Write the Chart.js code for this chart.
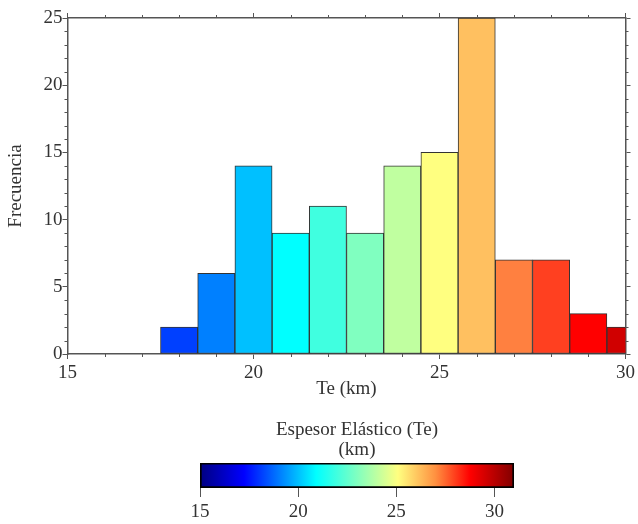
<!DOCTYPE html>
<html>
<head>
<meta charset="utf-8">
<script src="https://cdn.jsdelivr.net/npm/chart.js@4.4.0/dist/chart.umd.min.js"></script>
<style>
  body { margin: 0; background: #fff; }
  #wrap { position: relative; width: 638px; height: 524px; }
  #main { position: absolute; left: 0; top: 0; }
  #bar { position: absolute; left: 0; top: 400px; }
</style>
</head>
<body>
<div id="wrap">
  <canvas id="main" width="638" height="400"></canvas>
  <canvas id="bar" width="638" height="124"></canvas>
</div>
<script>
// bin centres (km), counts per 1 km bin
const binCentres = [18, 19, 20, 21, 22, 23, 24, 25, 26, 27, 28, 29, 30];
const counts = [2, 6, 14, 9, 11, 9, 14, 15, 25, 7, 7, 3, 2];
const binColors = ['#0040ff', '#0080ff', '#00c0ff', '#00ffff', '#40ffe0', '#80ffc0',
  '#c0ffa0', '#ffff80', '#ffc060', '#ff8040', '#ff4020', '#ff0000', '#d00000'];
const xTicks = [15, 20, 25, 30];
const yTicks = [0, 5, 10, 15, 20, 25];
const barTicks = [15, 20, 25, 30];

const serif = "'Liberation Serif', 'DejaVu Serif', serif";
Chart.defaults.font.family = serif;
Chart.defaults.color = '#333';

const axisCol = '#555';
const fs = 19;

// minor ticks every 1 unit on all four sides
const minorTicks = {
  id: 'minorTicks',
  afterDraw(chart) {
    const {ctx, chartArea: a, scales: {x, y}} = chart;
    ctx.save();
    ctx.strokeStyle = axisCol;
    ctx.lineWidth = 1;
    ctx.beginPath();
    for (let v = 15; v <= 30; v++) {
      if (v % 5 === 0) continue;
      const px = Math.round(x.getPixelForValue(v)) + 0.5;
      ctx.moveTo(px, a.bottom); ctx.lineTo(px, a.bottom + 3);
      ctx.moveTo(px, a.top); ctx.lineTo(px, a.top - 3);
    }
    for (let v = 0; v <= 25; v++) {
      if (v % 5 === 0) continue;
      const py = Math.round(y.getPixelForValue(v)) + 0.5;
      ctx.moveTo(a.left, py); ctx.lineTo(a.left - 3, py);
      ctx.moveTo(a.right, py); ctx.lineTo(a.right + 3, py);
    }
    ctx.stroke();
    ctx.restore();
  }
};

const frameAxis = (pos, ticks, extra) => Object.assign({
  type: 'linear',
  position: pos,
  offset: false,
  grid: { drawOnChartArea: false, tickLength: 5, tickColor: axisCol, offset: false },
  border: { color: axisCol, width: 1.5 },
  afterBuildTicks: s => { s.ticks = ticks.map(v => ({ value: v })); }
}, extra);

new Chart(document.getElementById('main'), {
  type: 'bar',
  data: {
    datasets: [{
      data: binCentres.map((c, i) => ({ x: c, y: counts[i] })),
      backgroundColor: binColors,
      borderColor: '#333',
      borderWidth: 1,
      borderSkipped: false,
      barPercentage: 1,
      categoryPercentage: 1
    }]
  },
  options: {
    responsive: false,
    animation: false,
    layout: { padding: { left: 5, top: 12, right: 3, bottom: 0 } },
    plugins: { legend: { display: false }, tooltip: { enabled: false } },
    scales: {
      x: frameAxis('bottom', xTicks, {
        min: 15, max: 30,
        ticks: { font: { size: fs }, padding: 3, maxRotation: 0 },
        title: { display: true, text: 'Te (km)', font: { size: fs }, padding: 0 },
        afterFit: s => { s.height = 46; }
      }),
      x2: frameAxis('top', xTicks, {
        min: 15, max: 30,
        ticks: { display: false },
        afterFit: s => { s.height = 6; }
      }),
      y: frameAxis('left', yTicks, {
        min: 0, max: 25,
        ticks: { font: { size: fs }, padding: 0 },
        title: { display: true, text: 'Frecuencia', font: { size: fs }, padding: 0 },
        afterFit: s => { s.width = 62.5; }
      }),
      y2: frameAxis('right', yTicks, {
        min: 0, max: 25,
        ticks: { display: false },
        afterFit: s => { s.width = 6; }
      })
    }
  },
  plugins: [minorTicks]
});

// colour bar (jet)
const jetStops = [[0, '#000080'], [0.14, '#0000ff'], [0.37, '#00ffff'], [0.5, '#80ffc0'],
  [0.63, '#ffff80'], [0.75, '#ff9040'], [0.86, '#ff0000'], [1, '#800000']];

new Chart(document.getElementById('bar'), {
  type: 'bar',
  data: {
    labels: [''],
    datasets: [{
      data: [[15, 31]],
      backgroundColor: ctx => {
        const a = ctx.chart.chartArea;
        if (!a) return '#fff';
        const g = ctx.chart.ctx.createLinearGradient(a.left, 0, a.right, 0);
        jetStops.forEach(s => g.addColorStop(s[0], s[1]));
        return g;
      },
      borderColor: '#000',
      borderWidth: 2,
      borderSkipped: false,
      barPercentage: 1,
      categoryPercentage: 1
    }]
  },
  options: {
    indexAxis: 'y',
    responsive: false,
    animation: false,
    layout: { padding: { left: 200, right: 124, top: 20, bottom: 0 } },
    plugins: {
      legend: { display: false },
      tooltip: { enabled: false },
      title: {
        display: true,
        text: ['Espesor Elástico (Te)', '(km)'],
        font: { size: fs, weight: 'normal', lineHeight: 1.05 },
        color: '#333',
        padding: { top: 0, bottom: 3 }
      }
    },
    scales: {
      x: {
        type: 'linear', min: 15, max: 31,
        grid: { drawOnChartArea: false, tickLength: 9, tickColor: '#555' },
        border: { display: false },
        ticks: { font: { size: fs }, padding: 4 },
        afterBuildTicks: s => { s.ticks = barTicks.map(v => ({ value: v })); },
        afterFit: s => { s.height = 36; }
      },
      y: { display: false }
    }
  }
});
</script>
</body>
</html>
